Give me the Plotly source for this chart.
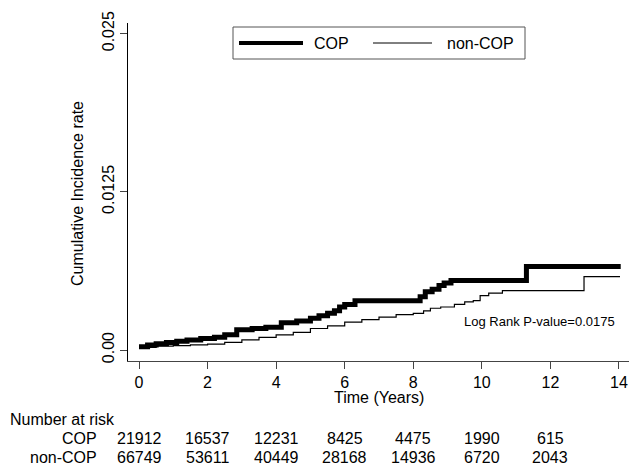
import plotly.graph_objects as go

# ---- data ----
cop_t = [0, 0.25, 0.5, 0.8, 1.1, 1.4, 1.8, 2.2, 2.5, 2.85, 3.3, 3.7, 4.15, 4.6, 5.0, 5.25,
         5.5, 5.7, 5.85, 6.0, 6.3, 8.2, 8.35, 8.55, 8.75, 8.9, 9.1, 11.3, 14.05]
cop_v = [0.00025, 0.0004, 0.0005, 0.0006, 0.0007, 0.0008, 0.0009, 0.001, 0.0012, 0.0016,
         0.0017, 0.0018, 0.00215, 0.0023, 0.0025, 0.0027, 0.0029, 0.0031, 0.0034, 0.0036,
         0.0039, 0.0042, 0.0046, 0.0048, 0.0051, 0.0053, 0.0055, 0.0066, 0.0066]

noncop_t = [0, 0.5, 1, 1.5, 2, 2.5, 3, 3.5, 4, 4.5, 5, 5.5, 6, 6.5, 7, 7.5, 8, 8.3, 8.5,
            8.8, 9.2, 9.5, 9.75, 9.95, 10.2, 10.6, 12.98, 14.03]
noncop_v = [0.0002, 0.0003, 0.00035, 0.0004, 0.00047, 0.0006, 0.0008, 0.001, 0.0012, 0.0014,
            0.0017, 0.0019, 0.0022, 0.0024, 0.0026, 0.0028, 0.0029, 0.0031, 0.0033, 0.0034,
            0.0036, 0.0038, 0.0039, 0.0043, 0.0045, 0.0047, 0.0058, 0.0058]

risk_times = [0, 2, 4, 6, 8, 10, 12]
risk_cop = [21912, 16537, 12231, 8425, 4475, 1990, 615]
risk_noncop = [66749, 53611, 40449, 28168, 14936, 6720, 2043]

x_ticks = [0, 2, 4, 6, 8, 10, 12, 14]
y_ticks = [0, 0.0125, 0.025]
y_ticktext = ["0.00", "0.0125", "0.025"]

FONT = "Liberation Sans, Arial, sans-serif"
AX = "#444444"

# plot area geometry in pixels (for placing legend / table in paper coords)
L, T, W, H = 128, 23, 501, 338


def px(xpix):
    return (xpix - L) / W


def py(ypix):
    return (T + H - ypix) / H


fig = go.Figure()
fig.add_trace(go.Scatter(x=cop_t, y=cop_v, mode="lines", line_shape="hv",
                         line=dict(color="black", width=5), name="COP"))
fig.add_trace(go.Scatter(x=noncop_t, y=noncop_v, mode="lines", line_shape="hv",
                         line=dict(color="black", width=1.2), name="non-COP"))

ann = []
ann.append(dict(text="Time (Years)", x=7, xref="x", y=py(397), yref="paper",
                showarrow=False, font=dict(size=16), xanchor="center", yanchor="middle"))
ann.append(dict(text="Cumulative Incidence rate", x=px(77), xref="paper", y=py(194),
                yref="paper", textangle=-90, showarrow=False, font=dict(size=16),
                xanchor="center", yanchor="middle"))
ann.append(dict(text="Log Rank P-value=0.0175", x=13.94, xref="x", y=0.00223, yref="y",
                showarrow=False, font=dict(size=13), xanchor="right", yanchor="middle"))
ann.append(dict(text="Number at risk", x=px(8), xref="paper", y=py(419.5),
                yref="paper", showarrow=False, font=dict(size=16),
                xanchor="left", yanchor="middle"))
ann.append(dict(text="COP", x=px(99), xref="paper", y=py(438.5), yref="paper",
                showarrow=False, font=dict(size=16), xanchor="right", yanchor="middle"))
ann.append(dict(text="non-COP", x=px(99), xref="paper", y=py(457), yref="paper",
                showarrow=False, font=dict(size=16), xanchor="right", yanchor="middle"))
for t, a, b in zip(risk_times, risk_cop, risk_noncop):
    ann.append(dict(text=str(a), x=t, xref="x", y=py(438.5), yref="paper",
                    showarrow=False, font=dict(size=16), xanchor="center", yanchor="middle"))
    ann.append(dict(text=str(b), x=t, xref="x", y=py(457), yref="paper",
                    showarrow=False, font=dict(size=16), xanchor="center", yanchor="middle"))

# legend (drawn by hand to match the boxed R legend)
shapes = [
    dict(type="rect", xref="paper", yref="paper", x0=px(233), x1=px(525), y0=py(59), y1=py(27),
         line=dict(color="#555555", width=1), fillcolor="white", layer="above"),
    dict(type="line", xref="paper", yref="paper", x0=px(239), x1=px(303), y0=py(43), y1=py(43),
         line=dict(color="black", width=4), layer="above"),
    dict(type="line", xref="paper", yref="paper", x0=px(373), x1=px(432), y0=py(43), y1=py(43),
         line=dict(color="black", width=1), layer="above"),
]
ann.append(dict(text="COP", x=px(312), xref="paper", y=py(43.5), yref="paper",
                showarrow=False, font=dict(size=16), xanchor="left", yanchor="middle"))
ann.append(dict(text="non-COP", x=px(445), xref="paper", y=py(43.5), yref="paper",
                showarrow=False, font=dict(size=16), xanchor="left", yanchor="middle"))

fig.update_layout(
    width=629, height=467,
    margin=dict(l=L, r=629 - L - W, t=T, b=467 - T - H),
    paper_bgcolor="white", plot_bgcolor="white",
    font=dict(family=FONT, color="black", size=16),
    showlegend=False,
    annotations=ann,
    shapes=shapes,
    xaxis=dict(range=[-0.321, 14.292], tickvals=x_ticks, showgrid=False, zeroline=False,
               showline=True, linecolor=AX, linewidth=1, ticks="outside", ticklen=7,
               tickcolor=AX, tickfont=dict(size=16)),
    yaxis=dict(range=[-0.000868, 0.025837], tickvals=y_ticks, ticktext=y_ticktext,
               tickangle=-90, showgrid=False, zeroline=False,
               showline=True, linecolor="black", linewidth=1, ticks="outside", ticklen=7,
               tickcolor=AX, tickfont=dict(size=16)),
)

fig.write_html("out.html", config={"displayModeBar": False},
               post_script="document.body.style.margin='0px';")
